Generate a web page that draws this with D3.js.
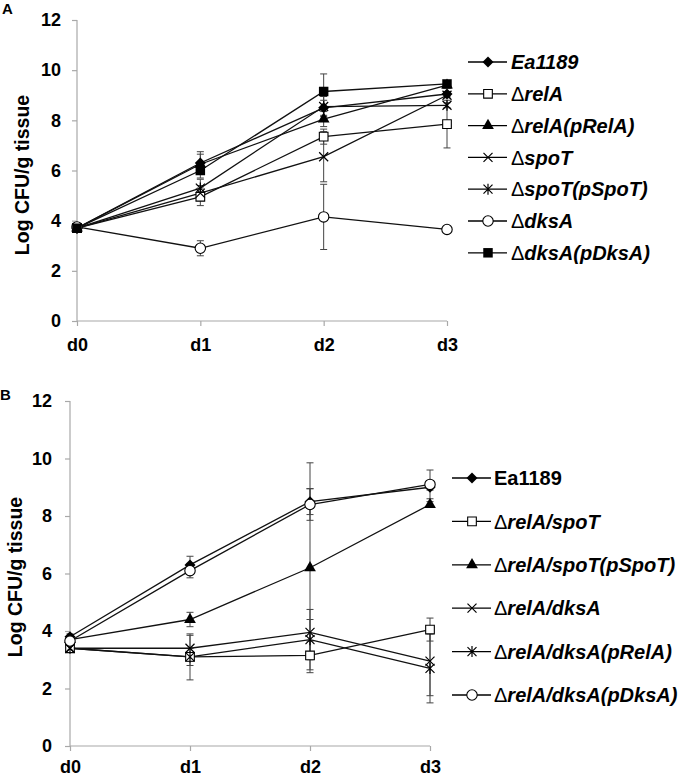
<!DOCTYPE html>
<html><head><meta charset="utf-8">
<script src="https://cdn.jsdelivr.net/npm/d3@7"></script>
<style>body{margin:0;background:#fff;}svg{display:block;font-family:"Liberation Sans",Arial,sans-serif;}</style>
</head><body>
<svg id="c" width="680" height="777"></svg>
<script>
const days = ["d0","d1","d2","d3"];
const yTicks = [0,2,4,6,8,10,12];

// Panel A
const namesA = [["Ea1189",false,true],["relA",true,true],["relA(pRelA)",true,true],["spoT",true,true],["spoT(pSpoT)",true,true],["dksA",true,true],["dksA(pDksA)",true,true]];
const shapesA = ["diamond","square-open","triangle","x","star","circle-open","square"];
const valuesA = [
  [3.7, 6.3, 8.5, 9.05],
  [3.7, 4.95, 7.35, 7.85],
  [3.7, 6.25, 8.05, 9.4],
  [3.7, 5.1, 6.55, 9.0],
  [3.7, 5.3, 8.55, 8.6],
  [3.75, 2.9, 4.15, 3.65],
  [3.7, 6.0, 9.15, 9.45]
];
const errorsA = [
  [0, 0.45, 0.3, 0.1],
  [0, 0.35, 0.3, 0.95],
  [0, 0.4, 0.3, 0.1],
  [0, 0.3, 1.0, 0.1],
  [0, 0.35, 0.4, 0.1],
  [0.1, 0.3, 1.3, 0.1],
  [0.1, 0.3, 0.7, 0.1]
];

// Panel B
const namesB = [["Ea1189",false,false],["relA/spoT",true,true],["relA/spoT(pSpoT)",true,true],["relA/dksA",true,true],["relA/dksA(pRelA)",true,true],["relA/dksA(pDksA)",true,true]];
const shapesB = ["diamond","square-open","triangle","x","star","circle-open"];
const valuesB = [
  [3.8, 6.3, 8.5, 9.0],
  [3.4, 3.1, 3.15, 4.05],
  [3.7, 4.4, 6.2, 8.4],
  [3.4, 3.4, 3.95, 2.95],
  [3.4, 3.1, 3.7, 2.7],
  [3.65, 6.1, 8.4, 9.1]
];
const errorsB = [
  [0.1, 0.3, 0.45, 0.1],
  [0.05, 0.3, 0.5, 0.4],
  [0.1, 0.25, 3.65, 0.1],
  [0.05, 0.45, 0.8, 1.2],
  [0.05, 0.8, 0.7, 1.2],
  [0.1, 0.25, 0.55, 0.5]
];

const svg = d3.select("#c");

function marker(g, shape, x, y){
  const s = g.append("g").attr("transform",`translate(${x},${y})`);
  const sym = (t,size)=>d3.symbol().type(t).size(size)();
  if(shape==="diamond") s.append("path").attr("d","M0,-5.5L5.5,0L0,5.5L-5.5,0Z").attr("fill","#000");
  else if(shape==="square") s.append("path").attr("d",sym(d3.symbolSquare,90)).attr("fill","#000");
  else if(shape==="square-open") s.append("path").attr("d",sym(d3.symbolSquare,75)).attr("fill","#fff").attr("stroke","#000").attr("stroke-width",1.1);
  else if(shape==="triangle") s.append("path").attr("d",sym(d3.symbolTriangle,60)).attr("fill","#000");
  else if(shape==="circle-open") s.append("circle").attr("r",5.2).attr("fill","#fff").attr("stroke","#000").attr("stroke-width",1.1);
  else if(shape==="x") s.append("path").attr("d","M-4.5,-4.5L4.5,4.5M-4.5,4.5L4.5,-4.5").attr("stroke","#000").attr("stroke-width",1.2).attr("fill","none");
  else if(shape==="star") s.append("path").attr("d","M-4.5,-4.5L4.5,4.5M-4.5,4.5L4.5,-4.5M0,-5.5L0,5.5").attr("stroke","#000").attr("stroke-width",1.2).attr("fill","none");
}

function panel(opt){
  const {label, labelX, labelY, labelSize, x0, x1, yTop, yBot, names, shapes, values, errors, legX, legY, legStep, legTextX, tickPad, xPad, ylabX, ylabY} = opt;
  const g = svg.append("g");
  const x = d3.scalePoint().domain(days).range([x0,x1]);
  const y = d3.scaleLinear().domain([0,12]).range([yBot,yTop]);

  const xa = g.append("g").attr("transform",`translate(0,${yBot})`).call(d3.axisBottom(x).tickSize(5).tickPadding(xPad));
  const ya = g.append("g").attr("transform",`translate(${x0},0)`).call(d3.axisLeft(y).tickValues(yTicks).tickSize(5).tickPadding(tickPad));
  [xa,ya].forEach(a=>{
    a.selectAll("path.domain").attr("stroke","#a8a8a8").attr("stroke-width",1.2);
    a.selectAll(".tick line").attr("stroke","#a8a8a8").attr("stroke-width",1.2);
    a.selectAll(".tick text").attr("fill","#000").attr("font-size",18).attr("font-weight","bold").attr("font-family","Liberation Sans, Arial, sans-serif");
  });
  ya.select("path.domain").attr("d",`M0,${yBot}V${yTop}`);
  xa.select("path.domain").attr("d",`M${x0},0H${x1}`);

  g.append("text").attr("transform",`translate(${ylabX},${ylabY}) rotate(-90)`).attr("text-anchor","middle")
    .attr("font-size",19.5).attr("font-weight","bold").text("Log CFU/g tissue");
  g.append("text").attr("x",labelX).attr("y",labelY).attr("font-size",labelSize).attr("font-weight","bold").text(label);

  // error bars
  values.forEach((vals,i)=>{
    vals.forEach((v,j)=>{
      const e = errors[i][j];
      if(e<=0) return;
      const cx = x(days[j]);
      g.append("path").attr("d",`M${cx},${y(v+e)}V${y(v-e)}M${cx-3.5},${y(v+e)}H${cx+3.5}M${cx-3.5},${y(v-e)}H${cx+3.5}`)
        .attr("stroke","#444").attr("stroke-width",1).attr("fill","none");
    });
  });
  const line = d3.line().x((d,j)=>x(days[j])).y(d=>y(d));
  values.forEach(vals=>{
    g.append("path").attr("d",line(vals)).attr("fill","none").attr("stroke","#111").attr("stroke-width",1.3);
  });
  values.forEach((vals,i)=>{
    vals.forEach((v,j)=>marker(g,shapes[i],x(days[j]),y(v)));
  });

  // legend
  names.forEach((n,i)=>{
    const ly = legY + i*legStep;
    g.append("line").attr("x1",legX).attr("x2",legX+39).attr("y1",ly).attr("y2",ly).attr("stroke","#000").attr("stroke-width",1.3);
    marker(g,shapes[i],legX+20,ly);
    const t = g.append("text").attr("x",legTextX).attr("y",ly).attr("dy","0.36em").attr("font-size",20).attr("font-weight","bold");
    if(n[1]) t.append("tspan").attr("font-weight","normal").text("\u0394");
    t.append("tspan").attr("font-style",n[2]?"italic":"normal").text(n[0]);
  });
}

panel({label:"A", labelX:2, labelY:14, labelSize:15, x0:77, x1:447, yTop:20, yBot:321,
  names:namesA, shapes:shapesA, values:valuesA, errors:errorsA,
  legX:468, legY:62, legStep:31.8, legTextX:511, tickPad:11, xPad:12, ylabX:29, ylabY:175});
panel({label:"B", labelX:0, labelY:400, labelSize:15, x0:70, x1:430, yTop:401, yBot:746,
  names:namesB, shapes:shapesB, values:valuesB, errors:errorsB,
  legX:452, legY:478, legStep:43.4, legTextX:494, tickPad:13, xPad:9, ylabX:22, ylabY:577});
</script>
</body></html>
